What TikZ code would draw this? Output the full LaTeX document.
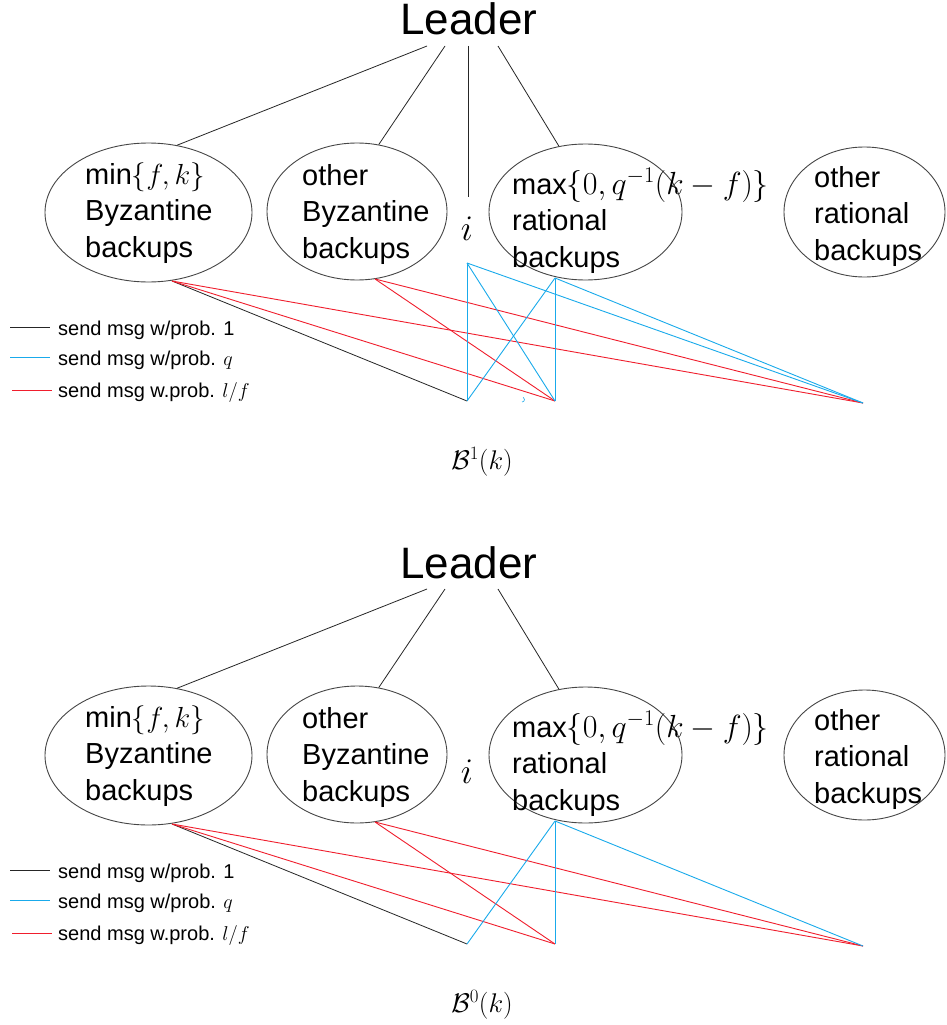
\RequirePackage{fix-cm}
\documentclass[tikz,border=0pt]{standalone}
\usepackage{fontspec}
\setmainfont{Liberation Sans}
\usetikzlibrary{shapes.geometric}
\definecolor{lblue}{RGB}{25,170,235}
\definecolor{lred}{RGB}{240,30,45}
\definecolor{egray}{RGB}{70,70,70}
\tikzset{
  oval/.style={draw=egray, line width=0.9pt, ellipse, inner sep=0pt},
  lbl/.style={font=\fontsize{29}{36.5}\selectfont, align=left, inner sep=0pt, anchor=base west},
  lead/.style={font=\fontsize{44}{44}\selectfont, inner sep=0pt, anchor=base},
  leg/.style={font=\fontsize{20}{24}\selectfont, inner sep=0pt, anchor=base west},
  captext/.style={font=\fontsize{27}{32}\selectfont, inner sep=0pt},
  tree/.style={draw=black!85, line width=0.8pt},
  pone/.style={draw=black!85, line width=0.8pt},
  pq/.style={draw=lblue, line width=0.9pt},
  plf/.style={draw=lred, line width=0.9pt},
  legline/.style={line width=1.3pt},
}
\newcommand\drawpanel[2]{%
  % #1 prefix, #2 superscript
  \node[lead] (#1Ld) at (469,35) {Leader};
  \coordinate (#1L1) at (427,46);
  \coordinate (#1L2) at (445,46);
  \coordinate (#1L4) at (498,46);
  \node[oval, minimum width=207pt, minimum height=139pt] (#1E1) at (148.5,212.5) {};
  \node[oval, minimum width=180pt, minimum height=137pt] (#1E2) at (357,211.5) {};
  \node[oval, minimum width=193pt, minimum height=136pt] (#1E3) at (585.5,212) {};
  \node[oval, minimum width=161pt, minimum height=130pt] (#1E4) at (864.5,212) {};
  \node[lbl] (#1T1) at (85,257) {min$\{f,k\}$\\Byzantine\\backups};
  \node[lbl] (#1T2) at (302,258) {other\\Byzantine\\backups};
  \node[lbl] (#1T3) at (512,267) {max{\fontsize{32}{36}\selectfont$\{0,q^{-1}(k-f)\}$}\\rational\\backups};
  \node[lbl] (#1T4) at (814,260) {other\\rational\\backups};
  \node[font=\fontsize{36}{36}\selectfont, inner sep=0pt, anchor=base] (#1I) at (467,240) {$i$};
  \draw[tree] (#1L1) -- (#1E1.67);
  \draw[tree] (#1L2) -- (#1E2.72);
  \draw[tree] (#1L4) -- (#1E3.112);
  \coordinate (#1J1) at (172,281);
  \coordinate (#1J2) at (375,279);
  \coordinate (#1J3) at (555,278);
  \coordinate (#1A) at (467,401);
  \coordinate (#1B) at (555,401);
  \coordinate (#1R) at (863,403);
  \draw[pone] (#1J1) -- (#1A);
  \draw[plf] (#1J1) -- (#1B);
  \draw[plf] (#1J1) -- (#1R);
  \draw[plf] (#1J2) -- (#1B);
  \draw[plf] (#1J2) -- (#1R);
  \draw[pq] (#1J3) -- (#1B);
  \draw[pq] (#1J3) -- (#1A);
  \draw[pq] (#1J3) -- (#1R);
  % legend
  \coordinate (#1g1a) at (10,327.5); \coordinate (#1g1b) at (50,327.5);
  \coordinate (#1g2a) at (10,357.5); \coordinate (#1g2b) at (50,357.5);
  \coordinate (#1g3a) at (12,390.5); \coordinate (#1g3b) at (52,390.5);
  \draw[pone, legline] (#1g1a) -- (#1g1b);
  \draw[pq, legline] (#1g2a) -- (#1g2b);
  \draw[plf, legline] (#1g3a) -- (#1g3b);
  \node[leg] (#1G1) at (58,335) {send msg w/prob. 1};
  \node[leg] (#1G2) at (58,365) {send msg w/prob. $q$};
  \node[leg] (#1G3) at (58,397) {send msg w.prob. $l/f$};
  \node[captext] (#1C) at (482,462) {$\mathcal{B}^{#2}(k)$};
}
\begin{document}
\begin{tikzpicture}[x=1pt,y=-1pt]
\useasboundingbox (0,0) rectangle (946,1025);
\fill[white] (0,0) rectangle (946,1025);
\begin{scope}
  \drawpanel{t}{1}
  \coordinate (tTop) at (468,46);
  \coordinate (tTopEnd) at (468,197);
  \draw[tree] (tTop) -- (tTopEnd);
  \coordinate (tTi) at (467,263);
  \draw[pq] (tTi) -- (tA);
  \draw[pq] (tTi) -- (tB);
  \draw[pq] (tTi) -- (tR);
  \draw[pq, line width=0.6pt] (522,402) arc (90:-60:2.5);
\end{scope}
\begin{scope}[shift={(0,543)}]
  \drawpanel{b}{0}
\end{scope}
\end{tikzpicture}
\end{document}
